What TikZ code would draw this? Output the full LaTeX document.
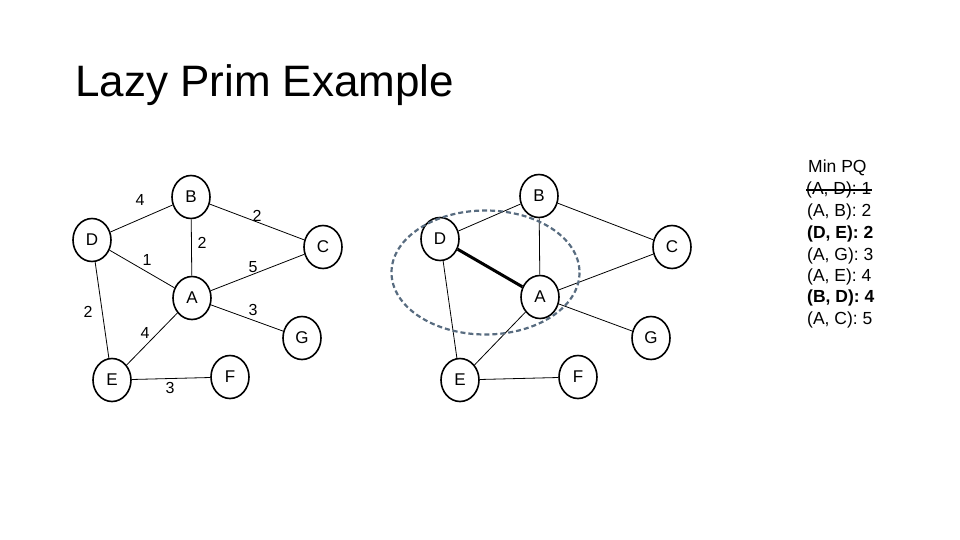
\documentclass[tikz,border=0pt]{standalone}
\usepackage{fontspec}
\setmainfont{Liberation Sans}
\usepackage{xcolor}
\usepackage{tikz}
\usetikzlibrary{shapes.geometric}

\definecolor{ringgray}{RGB}{88,108,128}

\tikzset{
  vertex/.style={draw, ellipse, line width=1.6pt, minimum width=38pt, minimum height=43pt, inner sep=0pt, fill=white, font=\fontsize{17}{20}\selectfont},
  weight/.style={inner sep=0pt, font=\fontsize{16}{19}\selectfont},
  link/.style={line width=0.8pt},
  pqline/.style={anchor=west, inner sep=0pt, font=\fontsize{17.5}{21}\selectfont}
}

\begin{document}
\begin{tikzpicture}[x=1pt, y=-1pt]
        \useasboundingbox (0,0) rectangle (960,540);

        \node[anchor=base west, inner sep=0pt, font=\fontsize{44}{52}\selectfont] (title) at (75,97) {Lazy Prim Example};

        \node[vertex] (lB) at (191,197) {B};
        \node[vertex] (lD) at (92,240) {D};
        \node[vertex] (lC) at (323,247) {C};
        \node[vertex] (lA) at (192,298) {A};
        \node[vertex] (lG) at (302,338) {G};
        \node[vertex] (lE) at (112,380) {E};
        \node[vertex] (lF) at (230,377) {F};

        \draw[link] (lD) -- (lB);
        \draw[link] (lB) -- (lC);
        \draw[link] (lB) -- (lA);
        \draw[link] (lD) -- (lA);
        \draw[link] (lA) -- (lC);
        \draw[link] (lD) -- (lE);
        \draw[link] (lA) -- (lG);
        \draw[link] (lA) -- (lE);
        \draw[link] (lE) -- (lF);

        \node[weight] (wDB) at (140,200) {4};
        \node[weight] (wBC) at (257,216) {2};
        \node[weight] (wBA) at (202,243) {2};
        \node[weight] (wDA) at (147,260) {1};
        \node[weight] (wAC) at (253,267) {5};
        \node[weight] (wDE) at (88,312) {2};
        \node[weight] (wAG) at (253,310) {3};
        \node[weight] (wAE) at (145,333) {4};
        \node[weight] (wEF) at (170,388) {3};

        \node[vertex] (rB) at (539,196) {B};
        \node[vertex] (rD) at (440,239) {D};
        \node[vertex] (rC) at (672,247) {C};
        \node[vertex] (rA) at (540,297) {A};
        \node[vertex] (rG) at (651,338) {G};
        \node[vertex] (rE) at (460,380) {E};
        \node[vertex] (rF) at (578,377) {F};

        \draw[link] (rD) -- (rB);
        \draw[link] (rB) -- (rC);
        \draw[link] (rB) -- (rA);
        \draw[line width=3pt] (rD) -- (rA);
        \draw[link] (rA) -- (rC);
        \draw[link] (rD) -- (rE);
        \draw[link] (rA) -- (rG);
        \draw[link] (rA) -- (rE);
        \draw[link] (rE) -- (rF);

        \draw[ringgray, line width=2.2pt, dash pattern=on 5pt off 3pt] (485.5,272.5) ellipse [x radius=94, y radius=62];

        \node[pqline] (pq0) at (808,168) {Min PQ};
        \node[pqline] (pq1) at (806,190) {(A, D): 1};
        \node[pqline] (pq2) at (807,212) {(A, B): 2};
        \node[pqline] (pq3) at (807,234) {\bfseries (D, E): 2};
        \node[pqline] (pq4) at (807,256) {(A, G): 3};
        \node[pqline] (pq5) at (807,277) {(A, E): 4};
        \node[pqline] (pq6) at (807,298) {\bfseries (B, D): 4};
        \node[pqline] (pq7) at (807,320) {(A, C): 5};
        \draw[line width=1.2pt] (pq1.west) -- (pq1.east);
    \end{tikzpicture}
\end{document}
